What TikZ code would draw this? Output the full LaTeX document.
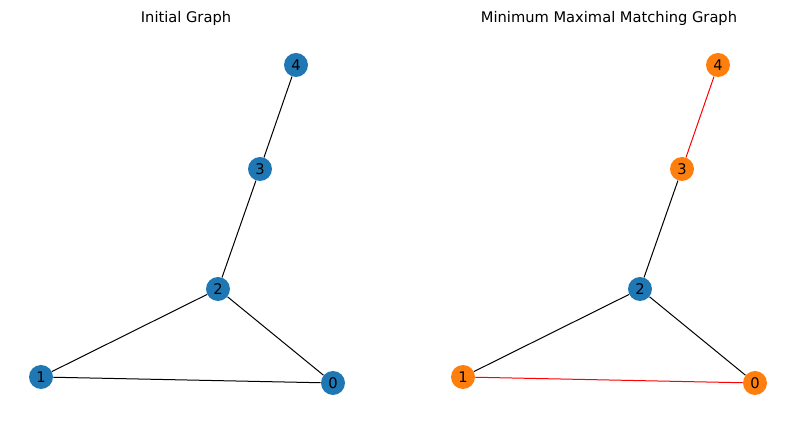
\documentclass[tikz,border=0pt]{standalone}
\usepackage{fontspec}
\setmainfont{DejaVu Sans}
\usetikzlibrary{positioning}
\definecolor{mplblue}{HTML}{1F77B4}
\definecolor{mplorange}{HTML}{FF7F0E}
\tikzset{
    vertex/.style={
        circle,
        fill=#1,
        inner sep=0pt,
        minimum size=18pt,
        font=\fontsize{11}{13}\selectfont
    },
    edge/.style={
        draw=#1,
        line width=0.75pt
    },
    heading/.style={
        font=\fontsize{11}{13}\selectfont
    }
}
\begin{document}
\begin{tikzpicture}[x=0.75pt,y=-0.75pt]
    \useasboundingbox (0,0) rectangle (794,427);
    % initial graph
    \node[heading] (titleA) at (186,18) {Initial Graph};
    \node[vertex=mplblue] (a4) at (296,65)  {4};
    \node[vertex=mplblue] (a3) at (260,169) {3};
    \node[vertex=mplblue] (a2) at (218,289) {2};
    \node[vertex=mplblue] (a1) at (41,377)  {1};
    \node[vertex=mplblue] (a0) at (333,383) {0};
    \begin{scope}[on background layer/.try]
    \end{scope}
    \draw[edge=black] (a4) -- (a3);
    \draw[edge=black] (a3) -- (a2);
    \draw[edge=black] (a2) -- (a1);
    \draw[edge=black] (a2) -- (a0);
    \draw[edge=black] (a1) -- (a0);

    % matching graph
    \node[heading] (titleB) at (609,18) {Minimum Maximal Matching Graph};
    \node[vertex=mplorange] (b4) at (718,65)  {4};
    \node[vertex=mplorange] (b3) at (682,169) {3};
    \node[vertex=mplblue]   (b2) at (640,289) {2};
    \node[vertex=mplorange] (b1) at (463,377) {1};
    \node[vertex=mplorange] (b0) at (755,383) {0};
    \draw[edge=red]   (b4) -- (b3);
    \draw[edge=black] (b3) -- (b2);
    \draw[edge=black] (b2) -- (b1);
    \draw[edge=black] (b2) -- (b0);
    \draw[edge=red]   (b1) -- (b0);
\end{tikzpicture}
\end{document}
